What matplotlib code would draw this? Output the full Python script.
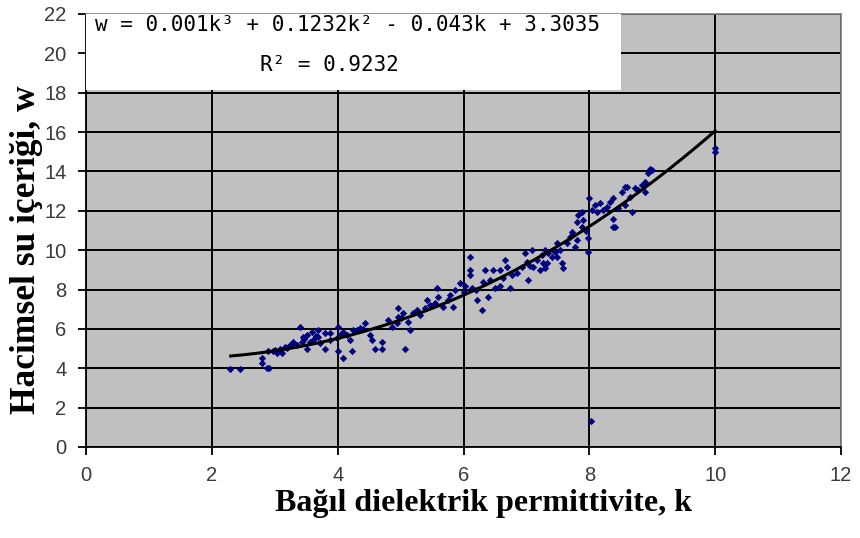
import numpy as np
import matplotlib
matplotlib.use("Agg")
import matplotlib.pyplot as plt
from matplotlib.patches import Rectangle

# measured points (dielectric permittivity k, volumetric water content w)
k_data = [2.29, 2.45, 2.80, 2.80, 2.88, 2.91, 2.90, 2.97, 3.03, 3.08, 3.11, 3.16,
          3.24, 3.29, 3.35, 3.40, 3.43, 3.45, 3.51, 3.51, 3.56, 3.59, 3.61, 3.69,
          3.69, 3.72, 3.80, 3.80, 3.88, 3.88, 4.00, 4.00, 4.09, 4.15,
          3.99, 4.09, 4.20, 4.23, 4.25, 4.31, 4.36, 4.44, 4.52, 4.55, 4.60, 4.70,
          4.70, 4.80, 4.86, 4.94, 4.96, 4.96, 5.04, 5.07, 5.12, 5.15, 5.20, 5.26,
          5.31, 5.39, 5.42, 5.47, 5.58, 5.60, 5.68, 5.76, 5.79, 5.83, 5.87, 5.95,
          6.03, 6.00,
          6.10, 6.10, 6.10, 6.14, 6.22, 6.30, 6.31, 6.34, 6.39, 6.42, 6.47, 6.50,
          6.58, 6.58, 6.66, 6.69, 6.74, 6.77, 6.85, 6.93, 6.98, 7.01, 7.03, 7.09,
          7.11, 7.17, 7.22, 7.25, 7.30, 7.33, 7.41, 7.42, 7.49,
          7.27, 7.30, 7.35, 7.49, 7.54, 7.57, 7.58, 7.65, 7.70, 7.73, 7.77, 7.81,
          7.81, 7.82, 7.89, 7.89, 7.90, 7.98, 7.98, 8.00, 8.04, 8.09, 8.12, 8.17,
          8.22, 8.28, 8.33, 8.38, 8.38, 8.41, 8.46, 8.52, 8.57, 8.60, 8.65, 8.68,
          8.73, 8.78, 8.84, 8.89, 8.89, 8.94, 8.97, 8.99,
          10.0, 10.0, 8.03,
          3.00, 3.20, 3.47, 3.65, 4.05, 4.40, 5.00, 5.55, 6.20, 6.62, 7.05, 7.45,
          7.95, 8.57, 8.38]
w_data = [3.96, 3.96, 4.27, 4.50, 4.00, 4.00, 4.90, 4.90, 4.80, 5.00, 4.80, 5.10,
          5.20, 5.35, 5.20, 6.10, 5.35, 5.60, 5.70, 5.00, 5.35, 5.85, 5.45, 5.95,
          5.60, 5.30, 5.00, 5.80, 5.80, 5.45, 6.10, 4.90, 4.50, 5.70,
          5.55, 5.85, 5.45, 4.90, 5.95, 5.95, 6.05, 6.30, 5.70, 5.45, 5.00, 5.35,
          5.00, 6.45, 6.10, 6.30, 7.05, 6.60, 6.80, 5.00, 6.35, 5.95, 6.80, 6.95,
          6.70, 7.05, 7.45, 7.20, 8.10, 7.60, 7.10, 7.45, 7.70, 7.10, 8.00, 8.35,
          8.20, 7.90,
          9.65, 9.00, 8.75, 8.10, 7.45, 6.95, 8.40, 9.00, 7.60, 8.50, 9.00, 8.10,
          9.00, 8.20, 9.50, 9.15, 8.10, 8.75, 8.85, 9.15, 9.85, 9.40, 8.50, 10.0,
          9.15, 9.50, 9.00, 9.75, 10.0, 9.35, 9.65, 10.0, 10.35,
          9.35, 9.10, 9.85, 9.65, 10.0, 9.35, 9.10, 10.35, 10.65, 10.9, 10.15, 10.5,
          11.45, 11.8, 11.2, 11.95, 11.55, 10.6, 9.90, 12.65, 12.05, 12.3, 11.95, 12.4,
          12.05, 12.2, 12.45, 12.65, 11.6, 11.2, 12.15, 12.95, 12.3, 13.2, 12.7, 11.95,
          13.15, 13.05, 13.3, 13.45, 12.95, 13.9, 14.15, 14.05,
          15.0, 15.2, 1.32,
          4.95, 5.05, 5.50, 5.65, 5.75, 6.00, 6.55, 7.30, 8.00, 8.60, 9.20, 9.90,
          10.95, 13.20, 11.20]

# trend line
curve_k = [2.3, 2.8, 3.9, 4.6, 5.4, 6.0, 6.7, 7.2, 8.0, 8.5, 9.3, 10.0]
curve_w = [4.62, 4.8, 5.45, 6.0, 6.95, 7.85, 8.65, 9.55, 11.28, 12.35, 14.18, 16.05]

x_ticks = [0, 2, 4, 6, 8, 10, 12]
y_ticks = [0, 2, 4, 6, 8, 10, 12, 14, 16, 18, 20, 22]

eq_text = "w = 0.001k³ + 0.1232k² - 0.043k + 3.3035"
r2_text = "R² = 0.9232"

fig = plt.figure(figsize=(8.6, 5.38), dpi=100)
ax = fig.add_axes([86 / 860, 1 - 447 / 538, (841 - 86) / 860, (447 - 14) / 538])
ax.set_facecolor("#c0c0c0")

ax.scatter(k_data, w_data, s=14, marker="D", color="#000080", linewidths=0, zorder=3)

coef = np.polyfit(curve_k, curve_w, 3)
kk = np.linspace(min(curve_k), max(curve_k), 200)
ax.plot(kk, np.polyval(coef, kk), color="black", lw=2.2, zorder=4)

ax.set_xlim(0, 12)
ax.set_ylim(0, 22)
ax.set_xticks(x_ticks)
ax.set_yticks(y_ticks)
ax.set_axisbelow(True)
ax.grid(True, color="black", lw=1.4)

for s in ["top", "right"]:
    ax.spines[s].set_color("#808080")
    ax.spines[s].set_linewidth(1.2)
for s in ["left", "bottom"]:
    ax.spines[s].set_color("black")
    ax.spines[s].set_linewidth(1.3)

ax.tick_params(direction="out", length=6, width=1.3, color="black",
               labelsize=14.5, labelcolor="#3a3a3a", pad=8)
for lab in ax.get_xticklabels() + ax.get_yticklabels():
    lab.set_family("Liberation Sans")

# equation box
ax.add_patch(Rectangle((0, (447 - 90) / 433), (621 - 86) / 755, 1 - (447 - 90) / 433,
                       transform=ax.transAxes, facecolor="white", edgecolor="none",
                       zorder=5, clip_on=False))
ax.text(0.346, 0.974, eq_text, transform=ax.transAxes, ha="center", va="center",
        family="DejaVu Sans Mono", fontsize=15, color="black", zorder=6)
ax.text(0.322, 0.882, r2_text, transform=ax.transAxes, ha="center", va="center",
        family="DejaVu Sans Mono", fontsize=15, color="black", zorder=6)

fig.text(484 / 860, 1 - 503 / 538, "Bağıl dielektrik permittivite, k",
         ha="center", va="center", family="Liberation Serif", fontweight="bold",
         fontsize=23)
fig.text(27 / 860, 1 - 250 / 538, "Hacimsel su içeriği, w", rotation=90,
         ha="center", va="center", family="Liberation Serif", fontweight="bold",
         fontsize=25.5)

fig.savefig("out.png", dpi=100)
